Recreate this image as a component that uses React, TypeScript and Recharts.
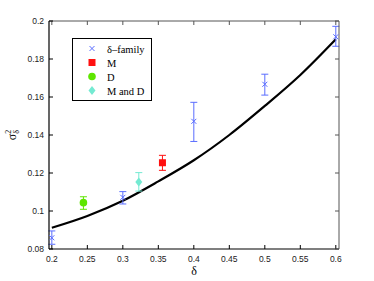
import React from 'react';
import { ComposedChart, Scatter, Line, ErrorBar, XAxis, YAxis } from 'recharts';

// δ-family runs
const familyX = [0.2, 0.3, 0.4, 0.5, 0.6];
const familyY = [0.0859, 0.1072, 0.1472, 0.1667, 0.1917];
const familyLo = [0.0825, 0.1037, 0.1366, 0.161, 0.1867];
const familyHi = [0.0895, 0.1102, 0.1572, 0.172, 0.1972];

// single estimates: M, D, M and D
const mX = [0.3558];
const mY = [0.1254];
const mLo = [0.1214];
const mHi = [0.1293];

const dX = [0.2445];
const dY = [0.1044];
const dLo = [0.1009];
const dHi = [0.1075];

const mdX = [0.3225];
const mdY = [0.1153];
const mdLo = [0.1105];
const mdHi = [0.1202];

// fitted curve
const curveX = [0.2, 0.25, 0.3, 0.35, 0.4, 0.45, 0.5, 0.55, 0.6];
const curveY = [0.0912, 0.0974, 0.1054, 0.1156, 0.1267, 0.14, 0.1553, 0.1716, 0.1904];

const xTicks = [0.2, 0.25, 0.3, 0.35, 0.4, 0.45, 0.5, 0.55, 0.6];
const yTicks = [0.08, 0.1, 0.12, 0.14, 0.16, 0.18, 0.2];

const BLUE = '#5a6dff';
const RED = '#ff1010';
const GREEN = '#5ee600';
const CYAN = '#74ead2';

const build = (xs: number[], ys: number[], lo: number[], hi: number[]) =>
  xs.map((x, i) => ({ x, y: ys[i], err: [ys[i] - lo[i], hi[i] - ys[i]] }));

const familyData = build(familyX, familyY, familyLo, familyHi);
const mData = build(mX, mY, mLo, mHi);
const dData = build(dX, dY, dLo, dHi);
const mdData = build(mdX, mdY, mdLo, mdHi);
const curveData = curveX.map((x, i) => ({ x, y: curveY[i] }));

const Cross = ({ cx, cy }: any) => (
  <path d={`M${cx - 2.5},${cy - 2.5}L${cx + 2.5},${cy + 2.5}M${cx - 2.5},${cy + 2.5}L${cx + 2.5},${cy - 2.5}`} stroke={BLUE} strokeWidth={1} />
);
const Square = ({ cx, cy }: any) => <rect x={cx - 3.5} y={cy - 3.5} width={7} height={7} fill={RED} />;
const Dot = ({ cx, cy }: any) => <circle cx={cx} cy={cy} r={3.8} fill={GREEN} />;
const Diamond = ({ cx, cy }: any) => (
  <path d={`M${cx},${cy - 4.5}L${cx + 3.5},${cy}L${cx},${cy + 4.5}L${cx - 3.5},${cy}Z`} fill={CYAN} />
);

const legendItems = [
  { label: 'δ–family', Shape: Cross },
  { label: 'M', Shape: Square },
  { label: 'D', Shape: Dot },
  { label: 'M and D', Shape: Diamond },
];

// legend box drawn over the plot, like the original
const ChartLegend = () => (
  <svg width={80} height={63} style={{ position: 'absolute', left: 72, top: 38, display: 'block' }}>
    <rect x={0.5} y={0.5} width={79} height={62} fill="#fff" stroke="#000" strokeWidth={1} />
    {legendItems.map((item, i) => (
      <g key={item.label}>
        <item.Shape cx={20} cy={10.5 + i * 14} />
        <text x={35} y={14.5 + i * 14} fontFamily="'Liberation Serif', serif" fontSize={10.5} fill="#000">
          {item.label}
        </text>
      </g>
    ))}
  </svg>
);

const tickStyle = { fontFamily: "'Liberation Sans', Arial, sans-serif", fontSize: 8.5, fill: '#222' };

const YLabel = () => (
  <text
    transform="translate(16,135) rotate(-90)"
    textAnchor="middle"
    fontFamily="'Liberation Serif', serif"
    fontSize={12}
    fill="#000"
  >
    σ
    <tspan fontSize={8} dy={-5}>2</tspan>
    <tspan fontSize={8} dx={-4} dy={8}>δ</tspan>
  </text>
);

export default function App() {
  return (
    <div style={{ position: 'absolute', left: 0, top: 0, width: 374, height: 281, background: '#fff' }}>
      <ComposedChart width={374} height={281} margin={{ top: 20, right: 34, bottom: 0, left: 9 }}>
        <XAxis
          xAxisId={0}
          dataKey="x"
          type="number"
          domain={[0.196, 0.6045]}
          allowDataOverflow
          ticks={xTicks}
          tickFormatter={(v) => String(v)}
          height={32}
          tickSize={-4}
          tickMargin={11}
          tick={tickStyle}
          axisLine={{ stroke: '#000', strokeWidth: 1.2 }}
          tickLine={{ stroke: '#000' }}
          label={{ value: 'δ', position: 'insideBottom', offset: 6, style: { fontFamily: "'Liberation Serif', serif", fontSize: 12, fill: '#000' } }}
        />
        <XAxis
          xAxisId="top"
          orientation="top"
          dataKey="x"
          type="number"
          domain={[0.196, 0.6045]}
          allowDataOverflow
          ticks={xTicks}
          tickFormatter={() => ''}
          height={1}
          tickSize={-4}
          axisLine={{ stroke: '#555' }}
          tickLine={{ stroke: '#555' }}
        />
        <YAxis
          yAxisId={0}
          type="number"
          domain={[0.08, 0.2]}
          allowDataOverflow
          ticks={yTicks}
          tickFormatter={(v) => String(v)}
          width={40}
          tickSize={-4}
          tickMargin={9}
          tick={tickStyle}
          axisLine={{ stroke: '#000', strokeWidth: 1.2 }}
          tickLine={{ stroke: '#000' }}
          label={<YLabel />}
        />
        <YAxis
          yAxisId="right"
          orientation="right"
          type="number"
          domain={[0.08, 0.2]}
          allowDataOverflow
          ticks={yTicks}
          tickFormatter={() => ''}
          width={1}
          tickSize={-4}
          axisLine={{ stroke: '#555' }}
          tickLine={{ stroke: '#555' }}
        />
        <Line
          data={curveData}
          dataKey="y"
          type="monotone"
          stroke="#000"
          strokeWidth={2.2}
          dot={false}
          activeDot={false}
          isAnimationActive={false}
          legendType="none"
        />
        <Scatter data={familyData} dataKey="y" shape={<Cross />} isAnimationActive={false}>
          <ErrorBar dataKey="err" direction="y" width={3.5} stroke={BLUE} strokeWidth={1} />
        </Scatter>
        <Scatter data={mData} dataKey="y" shape={<Square />} isAnimationActive={false}>
          <ErrorBar dataKey="err" direction="y" width={3.5} stroke={RED} strokeWidth={1} />
        </Scatter>
        <Scatter data={dData} dataKey="y" shape={<Dot />} isAnimationActive={false}>
          <ErrorBar dataKey="err" direction="y" width={3.5} stroke={GREEN} strokeWidth={1} />
        </Scatter>
        <Scatter data={mdData} dataKey="y" shape={<Diamond />} isAnimationActive={false}>
          <ErrorBar dataKey="err" direction="y" width={3.5} stroke={CYAN} strokeWidth={1} />
        </Scatter>
      </ComposedChart>
      <ChartLegend />
    </div>
  );
}
